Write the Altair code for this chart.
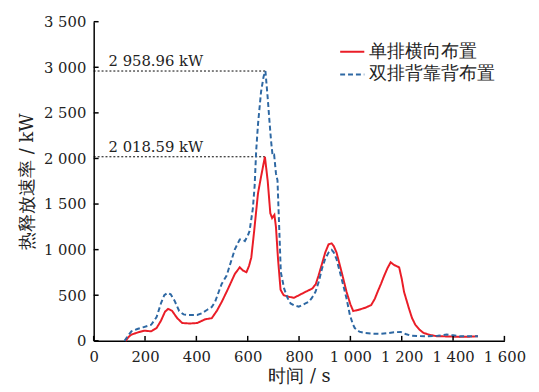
import altair as alt
import pandas as pd

series_names = ["单排横向布置", "双排背靠背布置"]

red_t = [125, 135, 147, 175, 198, 224, 245, 262, 278, 290, 305, 325, 345, 375, 403, 435, 460, 480, 499, 520,
         550, 569, 582, 595, 605, 614, 625, 640, 652, 667, 678, 688, 695, 704, 710, 718, 728, 740, 761, 780,
         800, 825, 851, 865, 876, 890, 902, 915, 927, 935, 946, 966, 985, 1000, 1011, 1030, 1060, 1081, 1095, 1106,
         1120, 1132, 1145, 1157, 1170, 1190, 1200, 1209, 1228, 1240, 1253, 1270, 1285, 1310, 1337, 1380, 1426, 1460, 1497]
red_v = [0, 40, 68, 95, 111, 104, 140, 220, 320, 350, 330, 250, 195, 190, 195, 237, 248, 330, 428, 550,
         734, 806, 770, 752, 820, 914, 1200, 1616, 1800, 2018.59, 1750, 1400, 1346, 1382, 1250, 900, 560, 500, 482, 472,
         500, 537, 572, 620, 716, 850, 968, 1058, 1069, 1040, 968, 752, 537, 400, 327, 338, 365, 392, 460, 537,
         630, 716, 800, 861, 832, 806, 680, 537, 356, 250, 176, 120, 86, 65, 50, 48, 43, 45, 50]

blue_t = [120, 135, 147, 170, 192, 224, 245, 262, 275, 288, 300, 315, 333, 350, 365, 403, 420, 441, 460, 473,
          490, 499, 518, 535, 550, 569, 580, 589, 600, 607, 620, 627, 633, 640, 652, 662, 669, 678, 685, 691,
          697, 703, 710, 716, 723, 729, 742, 755, 767, 780, 799, 825, 838, 850, 864, 877, 889, 902, 915, 927,
          935, 946, 966, 985, 998, 1010, 1017, 1035, 1055, 1090, 1119, 1150, 1170, 1196, 1215, 1234, 1260, 1298, 1340,
          1375, 1400, 1426, 1497]
blue_v = [0, 60, 104, 130, 148, 176, 260, 410, 500, 526, 510, 440, 327, 290, 284, 284, 300, 338, 370, 428,
          560, 626, 716, 870, 1004, 1112, 1110, 1094, 1150, 1202, 1450, 1700, 2084, 2372, 2732, 2900, 2958.96, 2660, 2400, 2192,
          2030, 2040, 1836, 1760, 1220, 752, 572, 470, 410, 390, 374, 410, 428, 470, 537, 650, 788, 900, 968, 997,
          970, 896, 680, 464, 284, 180, 140, 100, 86, 78, 76, 85, 94, 97, 75, 58, 52, 50, 55,
          68, 60, 50, 50]

peak_t = [667, 669]
peak_v = [2018.59, 2958.96]
peak_labels = ["2 018.59 kW", "2 958.96 kW"]

x_ticks = list(range(0, 1601, 200))
y_ticks = list(range(0, 3501, 500))

rows = []
for t, v in zip(red_t, red_v):
    rows.append({"t": t, "v": v, "s": series_names[0]})
for t, v in zip(blue_t, blue_v):
    rows.append({"t": t, "v": v, "s": series_names[1]})
df = pd.DataFrame(rows)

peaks = pd.DataFrame({"t0": [0, 0], "t": peak_t, "v": peak_v, "label": peak_labels, "tx": [58, 58]})
xt = pd.DataFrame({"t": x_ticks})
yt = pd.DataFrame({"v": y_ticks})

SERIF = "DejaVu Serif"
fmt = "replace(format(datum.value, ','), ',', ' ')"
TXT = "#222222"

xscale = alt.Scale(domain=[0, 1600], nice=False)
yscale = alt.Scale(domain=[0, 3500], nice=False)

lines = alt.Chart(df).mark_line(strokeWidth=2).encode(
    x=alt.X("t:Q", scale=xscale,
            axis=alt.Axis(title="时间 / s", values=x_ticks, labelExpr=fmt, grid=False, ticks=False,
                          labelFlush=False, labelOverlap=False, labelPadding=9, titlePadding=3)),
    y=alt.Y("v:Q", scale=yscale,
            axis=alt.Axis(title="热释放速率 / kW", values=y_ticks, labelExpr=fmt, grid=False, ticks=False,
                          labelOverlap=False, labelPadding=8, titlePadding=7)),
    color=alt.Color("s:N", scale=alt.Scale(domain=series_names, range=["#ea1d27", "#2e68a3"]),
                    legend=alt.Legend(title=None, orient="none", legendX=249, legendY=17,
                                      symbolType="stroke", symbolStrokeWidth=2, symbolSize=600,
                                      labelFont=SERIF, labelFontSize=18, labelColor=TXT,
                                      rowPadding=0, labelOffset=4)),
    strokeDash=alt.StrokeDash("s:N", scale=alt.Scale(domain=series_names, range=[[1, 0], [5, 3]]),
                              legend=alt.Legend(title=None, orient="none", legendX=249, legendY=17)),
    order="t:Q",
)

xticks_layer = alt.Chart(xt).mark_rule(color="black", strokeWidth=1.5).encode(
    x=alt.X("t:Q", scale=xscale), y=alt.value(324), y2=alt.value(319)
)
yticks_layer = alt.Chart(yt).mark_rule(color="black", strokeWidth=1.5).encode(
    y=alt.Y("v:Q", scale=yscale), x=alt.value(0), x2=alt.value(5)
)

rules = alt.Chart(peaks).mark_rule(color="black", strokeDash=[2, 2], strokeWidth=1).encode(
    x="t0:Q", x2="t:Q", y="v:Q"
)

texts = alt.Chart(peaks).mark_text(align="left", baseline="bottom", dy=-2, font=SERIF,
                                   fontSize=15, color=TXT).encode(
    x="tx:Q", y="v:Q", text="label:N"
)

chart = alt.layer(rules, lines, texts, xticks_layer, yticks_layer).properties(
    width=417, height=324,
    autosize=alt.AutoSizeParams(type="none"),
    padding={"left": 87, "top": 11, "right": 27, "bottom": 45},
).configure_view(stroke=None).configure_axis(
    domainColor="black", domainWidth=1.5,
    labelFont=SERIF, labelFontSize=15, labelColor=TXT,
    titleFont=SERIF, titleFontSize=18, titleFontWeight="normal", titleColor=TXT,
)

chart.save("out.html", embed_options={"renderer": "svg", "actions": False})
